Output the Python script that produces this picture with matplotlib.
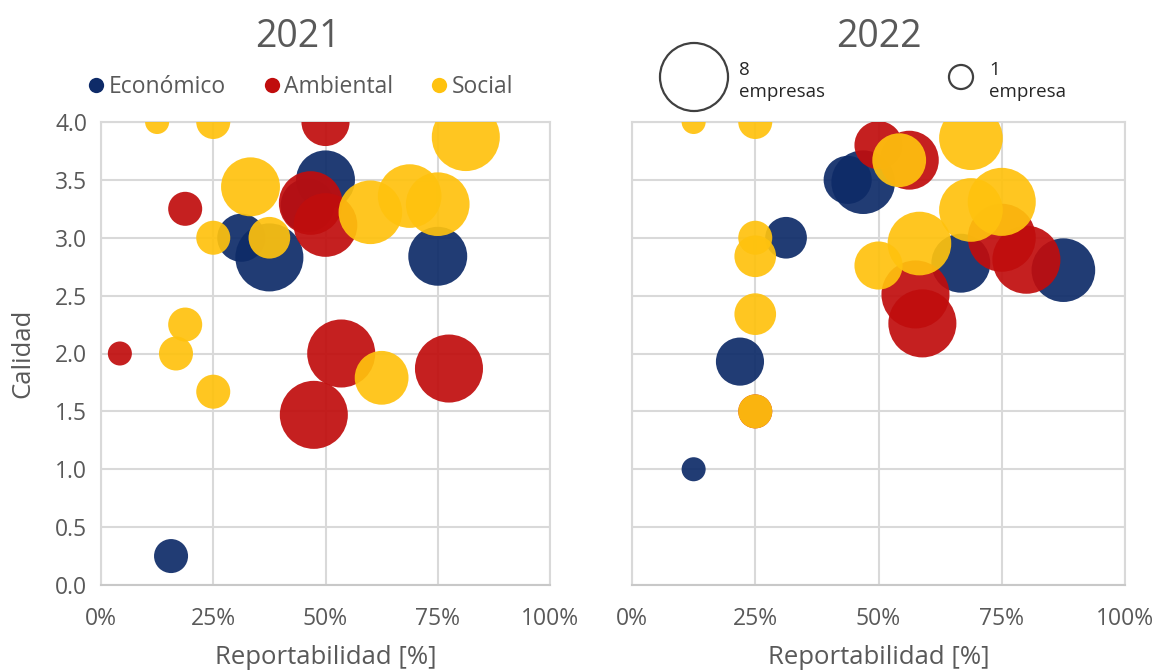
import matplotlib
matplotlib.use("Agg")
import matplotlib.pyplot as plt
from matplotlib.lines import Line2D

plt.rcParams["font.family"] = ["Open Sans", "DejaVu Sans"]

# category names and colours
categories = ["Económico", "Ambiental", "Social"]
colors = ["#0E2B68", "#C00D0D", "#FFC20E"]

# 2021 -- reportabilidad [%], calidad, number of companies
eco_2021_x = [50, 46, 31.25, 37.5, 75, 15.6]
eco_2021_y = [3.5, 3.28, 3.0, 2.83, 2.84, 0.25]
eco_2021_n = [6, 5, 4, 8, 6, 2]

amb_2021_x = [50, 18.75, 46.7, 50, 4.2, 53.5, 47.4, 77.5]
amb_2021_y = [4.0, 3.25, 3.30, 3.11, 2.0, 2.0, 1.47, 1.87]
amb_2021_n = [4, 2, 7, 7, 1, 8, 8, 8]

soc_2021_x = [12.5, 25, 81.25, 33.3, 25, 37.5, 60, 68.75, 75, 18.75, 16.7, 25, 62.5]
soc_2021_y = [4.0, 4.0, 3.87, 3.44, 3.0, 3.0, 3.22, 3.36, 3.29, 2.25, 2.0, 1.67, 1.79]
soc_2021_n = [1, 2, 8, 6, 2, 3, 7, 7, 7, 2, 2, 2, 5]

# 2022
eco_2022_x = [43.75, 46.9, 31.25, 66.7, 87.5, 21.9, 12.5]
eco_2022_y = [3.5, 3.48, 3.0, 2.78, 2.72, 1.93, 1.0]
eco_2022_n = [4, 7, 3, 6, 7, 4, 1]

amb_2022_x = [50, 56.25, 75, 80, 57.5, 58.9, 25]
amb_2022_y = [3.8, 3.67, 3.0, 2.81, 2.51, 2.26, 1.5]
amb_2022_n = [4, 6, 8, 8, 8, 8, 2]

soc_2022_x = [12.5, 25, 68.75, 54.2, 68.75, 75, 58.3, 50, 25, 25, 25, 25]
soc_2022_y = [4.0, 4.0, 3.86, 3.67, 3.24, 3.31, 2.95, 2.76, 3.0, 2.84, 2.34, 1.5]
soc_2022_n = [1, 2, 7, 5, 7, 8, 7, 4, 2, 3, 3, 2]

x_ticks = [0, 25, 50, 75, 100]
x_ticklabels = ["0%", "25%", "50%", "75%", "100%"]
y_ticks = [0.0, 0.5, 1.0, 1.5, 2.0, 2.5, 3.0, 3.5, 4.0]

size_legend_n = [8, 1]
size_legend_labels = ["8\nempresas", "1\nempresa"]

S_UNIT = 300  # points^2 per company
TEXT = "#595959"
GRID = "#D9D9D9"

years = {
    "2021": [(eco_2021_x, eco_2021_y, eco_2021_n),
             (amb_2021_x, amb_2021_y, amb_2021_n),
             (soc_2021_x, soc_2021_y, soc_2021_n)],
    "2022": [(eco_2022_x, eco_2022_y, eco_2022_n),
             (amb_2022_x, amb_2022_y, amb_2022_n),
             (soc_2022_x, soc_2022_y, soc_2022_n)],
}

fig = plt.figure(figsize=(11.56, 6.72), dpi=100)
ax1 = fig.add_axes([101 / 1156, 87 / 672, 449 / 1156, 463 / 672])
ax2 = fig.add_axes([632 / 1156, 87 / 672, 493 / 1156, 463 / 672])

for ax, (year, series) in zip([ax1, ax2], years.items()):
    for (xs, ys, ns), col in zip(series, colors):
        ax.scatter(xs, ys, s=[n * S_UNIT for n in ns], color=col,
                   alpha=0.92, linewidths=0, zorder=3)
    ax.set_xlim(0, 100)
    ax.set_ylim(0, 4)
    ax.set_xticks(x_ticks)
    ax.set_xticklabels(x_ticklabels)
    ax.set_yticks(y_ticks)
    ax.grid(True, color=GRID, linewidth=1.5, zorder=0)
    ax.set_axisbelow(True)
    for sp in ax.spines.values():
        sp.set_color(GRID)
        sp.set_linewidth(1.5)
    ax.spines["bottom"].set_color("#C8C8C8")
    ax.tick_params(length=0, labelsize=16.5, labelcolor=TEXT, pad=16)
    ax.set_xlabel("Reportabilidad [%]", fontsize=18.5, color=TEXT, labelpad=10)

ax1.set_title("2021", fontsize=27, color=TEXT, x=(298 - 101) / 449, pad=54)
ax2.set_title("2022", fontsize=27, color=TEXT, pad=54)

ax1.set_yticklabels([f"{v:.1f}" for v in y_ticks])
ax1.tick_params(axis="y", pad=10)
ax1.set_ylabel("Calidad", fontsize=18.5, color=TEXT, labelpad=14)
ax2.set_yticklabels([])

handles = [Line2D([], [], marker="o", linestyle="", markersize=11,
                  markerfacecolor=c, markeredgewidth=0) for c in colors]
fig.legend(handles, categories, loc="center left", bbox_to_anchor=(64 / 1156, 1 - 87 / 672),
           ncol=3, frameon=False, fontsize=16.5, labelcolor=TEXT,
           handletextpad=0.05, columnspacing=1.5, handlelength=1.0)

# size legend in pixel coordinates
over = fig.add_axes([0, 0, 1, 1])
over.set_xlim(0, 1156)
over.set_ylim(672, 0)
over.axis("off")
for (cx, tx), n, lab in zip([(694, 739), (961, 989)], size_legend_n, size_legend_labels):
    over.scatter([cx], [77], s=n * S_UNIT, facecolor="none", edgecolor="#404040", linewidths=1.6)
    over.text(tx, 81, lab, fontsize=13.5, color="#262626", va="center", ha="left", linespacing=1.35)

fig.savefig("out.png", dpi=100)
